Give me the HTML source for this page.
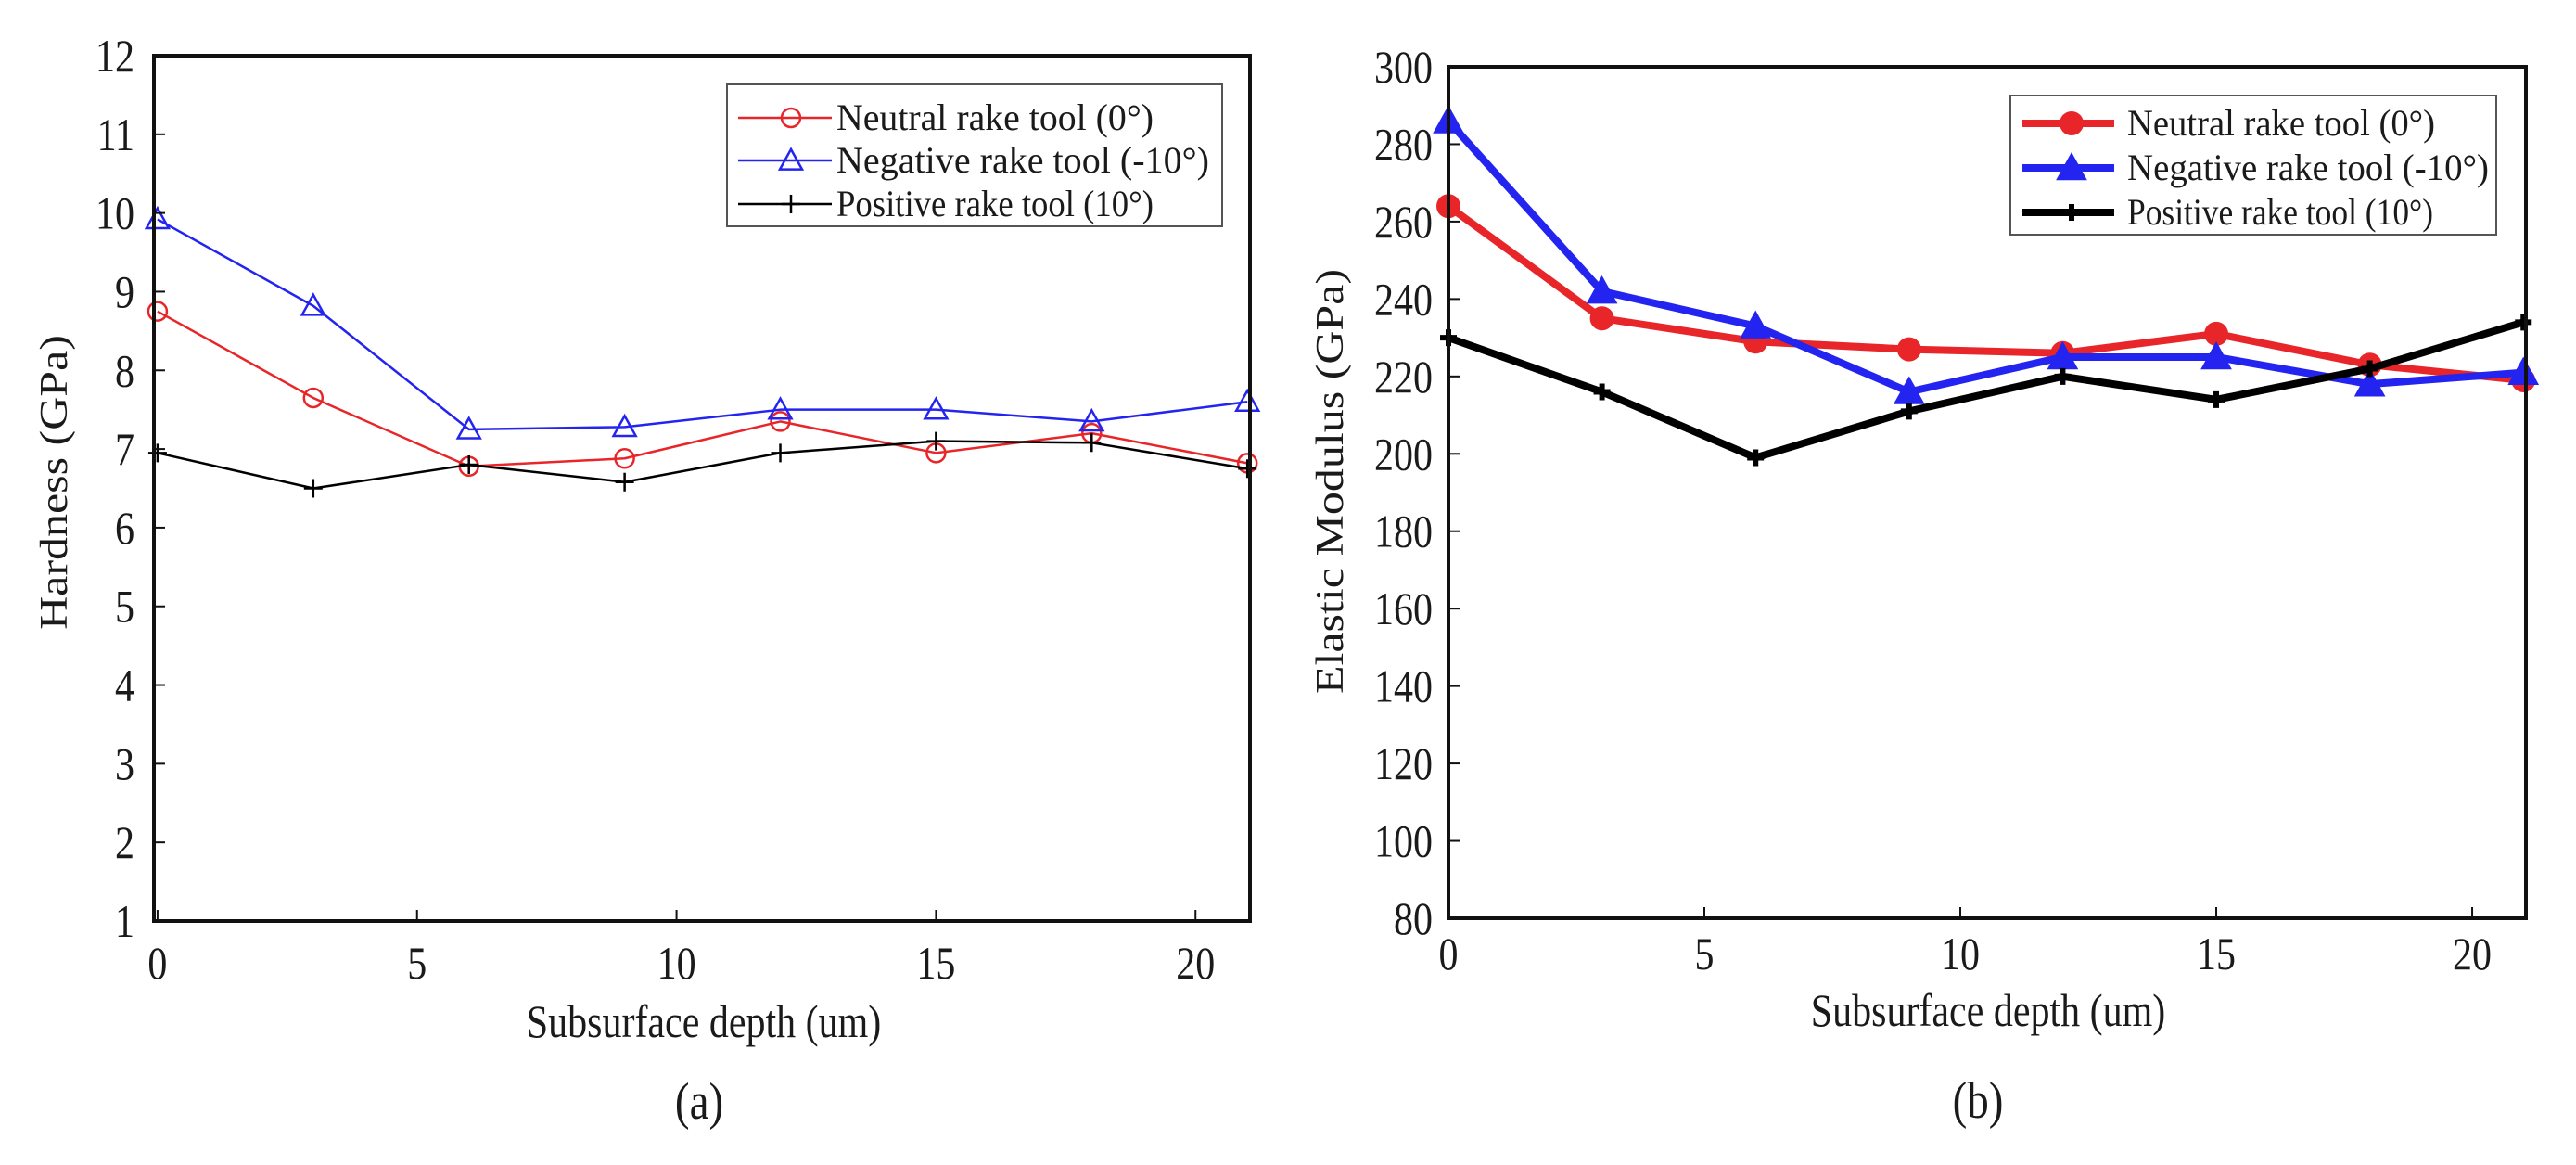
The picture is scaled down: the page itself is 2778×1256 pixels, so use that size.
<!DOCTYPE html>
<html><head><meta charset="utf-8"><style>
html,body{margin:0;padding:0;background:#fff;}
svg{display:block;font-family:"Liberation Serif",serif;}
</style></head><body>
<svg id="fig" width="2778" height="1256" viewBox="0 0 2778 1256" xmlns="http://www.w3.org/2000/svg"></svg>
<script>
const depths = [0, 3, 6, 9, 12, 15, 18, 21];
const hardNeutral = [8.75, 7.65, 6.78, 6.88, 7.35, 6.95, 7.2, 6.82];
const hardNegative = [9.92, 8.82, 7.25, 7.28, 7.5, 7.5, 7.35, 7.6];
const hardPositive = [6.95, 6.5, 6.8, 6.58, 6.95, 7.1, 7.08, 6.75];
const modNeutral = [264, 235, 229, 227, 226, 231, 223, 219];
const modNegative = [286, 242, 233, 216, 225, 225, 218, 221];
const modPositive = [230, 216, 199, 211, 220, 214, 222, 234];
const xTicks = [0, 5, 10, 15, 20];
const hardTicks = [1,2,3,4,5,6,7,8,9,10,11,12];
const modTicks = [80,100,120,140,160,180,200,220,240,260,280,300];
const seriesNames = ["Neutral rake tool (0°)", "Negative rake tool (-10°)", "Positive rake tool (10°)"];

const NS = "http://www.w3.org/2000/svg";
const svg = document.getElementById('fig');
function mk(tag, attrs, parent){
  const e = document.createElementNS(NS, tag);
  for (const k in attrs) e.setAttribute(k, attrs[k]);
  (parent || svg).appendChild(e);
  return e;
}
function txt(s, x, y, size, anchor, parent, rot){
  const t = mk('text', {x:0, y:0, 'font-size':size, 'text-anchor':anchor, fill:'#1a1a1a'}, parent);
  t.setAttribute('transform', 'translate(' + x + ',' + y + ')' + (rot ? ' rotate(' + rot + ') scale(1,0.84)' : ' scale(0.84,1)'));
  t.textContent = s;
  return t;
}
function marker(g, type, x, y, color, big){
  let m;
  if (type === 'circle') {
    m = big ? mk('circle', {cx:x, cy:y, r:13, fill:color}, g)
            : mk('circle', {cx:x, cy:y, r:10, fill:'none', stroke:color, 'stroke-width':2.5}, g);
  } else if (type === 'tri') {
    const s = big ? 16 : 12;
    m = mk('polygon', {points:(x)+','+(y-s)+' '+(x-s)+','+(y+s*0.8)+' '+(x+s)+','+(y+s*0.8),
      fill: big ? color : 'none', stroke:color, 'stroke-width': big ? 1 : 2.5}, g);
  } else {
    const s = big ? 9 : 10;
    m = mk('path', {d:'M'+(x-s)+','+y+'H'+(x+s)+'M'+x+','+(y-s)+'V'+(y+s), stroke:color, 'stroke-width': big ? 6 : 2.5}, g);
  }
  
  
  return m;
}

function chart(cfg){
  const g = mk('g', {});
  
  
  const X = v => cfg.x0 + (v - cfg.xmin) / (cfg.xmax - cfg.xmin) * (cfg.x1 - cfg.x0);
  const Y = v => cfg.y1 - (v - cfg.ymin) / (cfg.ymax - cfg.ymin) * (cfg.y1 - cfg.y0);
  const seriesData = cfg.series;
  const colors = ['#e8262a', '#2424f0', '#000'];
  const types = ['circle', 'tri', 'plus'];
  const sNames = ['series-neutral', 'series-negative', 'series-positive'];
  seriesData.forEach((vals, i) => {
    const sg = mk('g', {}, g);
    
    
    const pts = vals.map((v, j) => X(depths[j]) + ',' + Y(v)).join(' ');
    const pl = mk('polyline', {points:pts, fill:'none', stroke:colors[i], 'stroke-width':cfg.lw, 'stroke-linejoin':'round'}, sg);
    
    
    vals.forEach((v, j) => marker(sg, types[i], X(depths[j]), Y(v), colors[i], cfg.big));
  });
  const frame = mk('rect', {x:cfg.x0, y:cfg.y0, width:cfg.x1-cfg.x0, height:cfg.y1-cfg.y0, fill:'none', stroke:'#111', 'stroke-width':4}, g);
  
  
  const xg = mk('g', {}, g);
  
  
  xTicks.forEach(v => {
    mk('line', {x1:X(v), x2:X(v), y1:cfg.y1, y2:cfg.y1-12, stroke:'#111', 'stroke-width':2}, xg);
    const t = txt(String(v), X(v), cfg.xlabY, 50, 'middle', xg);
    
    
  });
  const yg = mk('g', {}, g);
  
  
  cfg.yticks.forEach(v => {
    mk('line', {x1:cfg.x0, x2:cfg.x0+12, y1:Y(v), y2:Y(v), stroke:'#111', 'stroke-width':2}, yg);
    const t = txt(String(v), cfg.ylabX, Y(v) + 17, 50, 'end', yg);
    
    
  });
  const xt = txt('Subsurface depth (um)', cfg.xtX, cfg.xtY, 50, 'middle', g);
  
  
  const yt = txt(cfg.ytitle, cfg.ytX, cfg.ytY, 50, 'middle', g, -90);
  
  
  const cap = txt(cfg.caption, cfg.capX, cfg.capY, 56, 'middle', g);
  
  
  // legend
  const L = cfg.leg;
  const lg = mk('g', {}, g);
  
  
  mk('rect', {x:L.x0, y:L.y0, width:L.x1-L.x0, height:L.y1-L.y0, fill:'#fff', stroke:'#555', 'stroke-width':2}, lg);
  seriesNames.forEach((n, i) => {
    const eg = mk('g', {}, lg);
    
    
    const yy = L.rows[i];
    mk('line', {x1:L.lx0, x2:L.lx1, y1:yy, y2:yy, stroke:colors[i], 'stroke-width':cfg.lw}, eg);
    marker(eg, types[i], L.mx, yy, colors[i], cfg.big);
    const t = mk('text', {x:L.tx, y:yy+13, 'font-size':L.fs, fill:'#1a1a1a', textLength:L.tw[i], lengthAdjust:'spacingAndGlyphs'}, eg);
    t.textContent = n;
  });
}

chart({name:'hardness-chart', x0:166, x1:1348, y0:60, y1:993, xmin:-0.07, xmax:21.05, ymin:1, ymax:12,
  series:[hardNeutral, hardNegative, hardPositive], lw:2.5, big:false, yticks:hardTicks,
  xlabY:1055, ylabX:145, xtX:759, xtY:1118, ytitle:'Hardness (GPa)', ytX:72, ytY:520,
  caption:'(a)', capX:754, capY:1206,
  leg:{x0:784, x1:1318, y0:91, y1:244, rows:[127,173,220], lx0:796, lx1:897, mx:853, tx:902, fs:40, tw:[342,402,342]}});

chart({name:'modulus-chart', x0:1562, x1:2724, y0:72, y1:990, xmin:0, xmax:21.05, ymin:80, ymax:300,
  series:[modNeutral, modNegative, modPositive], lw:8, big:true, yticks:modTicks,
  xlabY:1045, ylabX:1545, xtX:2144, xtY:1106, ytitle:'Elastic Modulus (GPa)', ytX:1448, ytY:519,
  caption:'(b)', capX:2133, capY:1205,
  leg:{x0:2168, x1:2692, y0:103, y1:253, rows:[133,181,229], lx0:2181, lx1:2280, mx:2234, tx:2294, fs:40, tw:[332,390,330]}});
</script>
</body></html>
